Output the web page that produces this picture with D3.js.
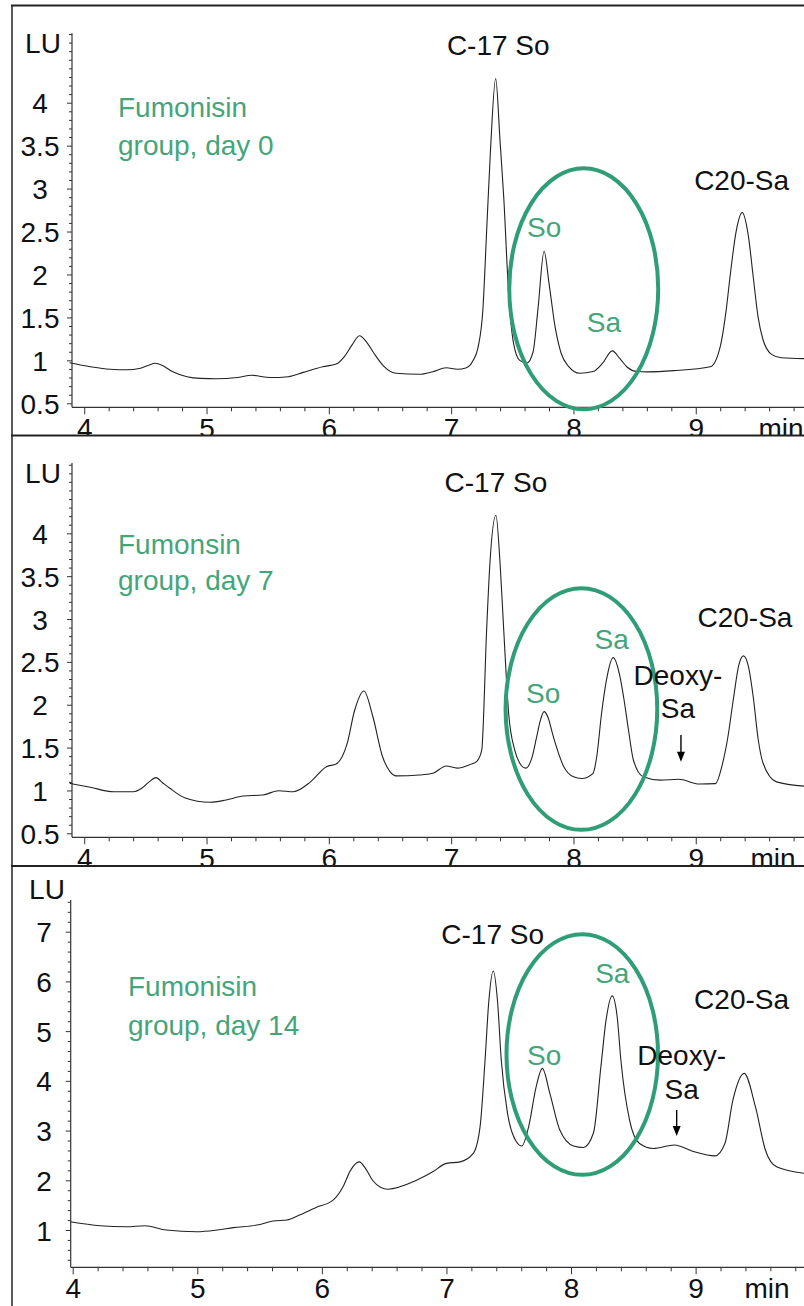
<!DOCTYPE html>
<html><head><meta charset="utf-8">
<script src="https://cdn.jsdelivr.net/npm/d3@7"></script>
<style>
html,body{margin:0;padding:0;background:#fff;}
svg text{font-family:"Liberation Sans",Arial,sans-serif;}
</style></head>
<body>
<svg id="chart" width="804" height="1306"></svg>
<script>
// ---------- data (retention time in min, signal in LU) ----------
const day0Time = [3.88,4.05,4.21,4.35,4.45,4.52,4.58,4.64,4.72,4.84,4.95,5.08,5.25,5.37,5.52,5.67,5.79,5.95,6.06,6.13,6.19,6.25,6.31,6.37,6.45,6.55,6.74,6.85,6.96,7.05,7.12,7.18,7.22,7.26,7.29,7.32,7.364,7.40,7.43,7.47,7.51,7.56,7.62,7.67,7.71,7.76,7.80,7.85,7.90,7.96,8.05,8.16,8.24,8.317,8.38,8.44,8.52,8.60,8.82,9.12,9.20,9.25,9.28,9.33,9.38,9.43,9.47,9.51,9.55,9.62,9.70,9.885];
const day0LU   = [0.973,0.926,0.896,0.89,0.905,0.94,0.966,0.94,0.87,0.81,0.79,0.786,0.80,0.826,0.80,0.81,0.86,0.926,0.957,1.05,1.18,1.287,1.21,1.08,0.93,0.849,0.838,0.868,0.914,0.896,0.91,1.0,1.15,1.6,2.5,3.4,4.28,3.55,2.9,1.78,1.2,1.0,0.97,1.1,1.6,2.27,1.9,1.39,1.08,0.93,0.85,0.87,0.97,1.11,1.02,0.92,0.87,0.866,0.88,0.926,1.16,1.6,1.97,2.5,2.72,2.45,1.97,1.5,1.24,1.07,1.03,1.02];

const day7Time = [3.88,4.05,4.24,4.40,4.47,4.53,4.587,4.64,4.70,4.82,5.03,5.16,5.30,5.46,5.59,5.71,5.85,5.98,6.06,6.15,6.21,6.287,6.36,6.44,6.50,6.55,6.74,6.85,6.96,7.05,7.15,7.21,7.25,7.29,7.317,7.366,7.40,7.43,7.47,7.52,7.56,7.61,7.66,7.70,7.73,7.76,7.79,7.835,7.92,8.0,8.07,8.16,8.19,8.23,8.27,8.325,8.38,8.41,8.45,8.49,8.57,8.71,8.86,9.03,9.16,9.22,9.26,9.31,9.35,9.39,9.43,9.47,9.51,9.55,9.66,9.885];
const day7LU   = [1.083,1.037,0.985,0.985,1.025,1.10,1.149,1.09,1.025,0.916,0.862,0.889,0.935,0.947,0.997,0.985,1.10,1.277,1.309,1.55,1.93,2.16,1.86,1.39,1.22,1.17,1.18,1.20,1.285,1.26,1.30,1.34,1.47,2.87,3.65,4.21,3.65,2.87,1.90,1.47,1.32,1.26,1.38,1.63,1.82,1.92,1.86,1.63,1.28,1.16,1.14,1.20,1.39,1.90,2.29,2.55,2.33,2.09,1.705,1.355,1.16,1.12,1.13,1.075,1.08,1.32,1.6,2.09,2.45,2.57,2.45,2.09,1.6,1.32,1.10,1.05];

const day14Time = [3.98,4.22,4.43,4.58,4.75,4.995,5.16,5.29,5.48,5.61,5.72,5.82,5.95,6.09,6.17,6.23,6.30,6.35,6.41,6.47,6.53,6.76,6.89,7.00,7.11,7.215,7.27,7.31,7.34,7.376,7.41,7.44,7.49,7.56,7.605,7.66,7.72,7.77,7.83,7.91,8.02,8.10,8.18,8.24,8.28,8.33,8.37,8.40,8.47,8.55,8.66,8.83,8.98,9.155,9.235,9.30,9.39,9.48,9.56,9.65,9.87];
const day14LU   = [1.167,1.087,1.066,1.087,1.0,0.966,1.0,1.047,1.1,1.18,1.2,1.30,1.45,1.60,1.87,2.2,2.37,2.24,1.99,1.86,1.82,2.0,2.17,2.34,2.37,2.54,3.08,4.42,5.6,6.21,5.6,4.42,3.35,2.78,2.69,3.08,3.88,4.25,3.75,3.01,2.69,2.66,2.95,4.29,5.2,5.71,5.3,4.42,3.21,2.74,2.64,2.71,2.58,2.49,2.74,3.62,4.15,3.48,2.61,2.27,2.14];

const xTickValues = [4,5,6,7,8,9];
const yTicksA = [0.5,1,1.5,2,2.5,3,3.5,4];
const yTicksB = [1,2,3,4,5,6,7];

const titles = [["Fumonisin","group, day 0"],["Fumonsin","group, day 7"],["Fumonisin","group, day 14"]];

// annotations in data coordinates [time, LU] (label centres)
const ann0 = [{t:"C-17 So",x:7.385,y:4.671,c:"k"},{t:"C20-Sa",x:9.375,y:3.10,c:"k"},{t:"So",x:7.761,y:2.556,c:"g"},{t:"Sa",x:8.249,y:1.45,c:"g"}];
const ann7 = [{t:"C-17 So",x:7.366,y:4.603,c:"k"},{t:"C20-Sa",x:9.402,y:3.027,c:"k"},{t:"So",x:7.753,y:2.134,c:"g"},{t:"Sa",x:8.312,y:2.764,c:"g"},{t:"Deoxy-",x:8.854,y:2.347,c:"k"},{t:"Sa",x:8.854,y:1.959,c:"k"}];
const ann14 = [{t:"C-17 So",x:7.371,y:6.956,c:"k"},{t:"C20-Sa",x:9.369,y:5.642,c:"k"},{t:"So",x:7.785,y:4.521,c:"g"},{t:"Sa",x:8.331,y:6.177,c:"g"},{t:"Deoxy-",x:8.888,y:4.521,c:"k"},{t:"Sa",x:8.888,y:3.831,c:"k"}];
const arrow7 = [8.879, 1.647, 1.335];
const arrow14 = [8.848, 3.414, 2.891];
const ellipse0 = [8.084, 1.833, 0.609, 1.403];
const ellipse7 = [8.065, 1.95, 0.62, 1.41];
const ellipse14 = [8.09, 4.53, 0.608, 2.42];

// ---------- drawing ----------
const GREEN_TEXT = "#45a57a", GREEN_LINE = "#2f9e76";
const FS = 28;
const svg = d3.select("#chart");

const panels = [
  {time:day0Time, lu:day0LU, yTicks:yTicksA, yMinor:0.1, yDom:[0.5,4], yRange:[403.3,102.7], yTop:4.81, yBot:0.453,
   xDom:[3.9,9.885], xRange:[72,804], axisY:407.3, top:6, bottom:435, ann:ann0, ell:ellipse0, arrow:null,
   title:titles[0], titleX:118, titleY:[117,155], luY:52.7, labX:40, minX:781},
  {time:day7Time, lu:day7LU, yTicks:yTicksA, yMinor:0.1, yDom:[0.5,4], yRange:[833.3,533.3], yTop:4.82, yBot:0.453,
   xDom:[3.9,9.885], xRange:[72,804], axisY:837.3, top:435, bottom:866, ann:ann7, ell:ellipse7, arrow:arrow7,
   title:titles[1], titleX:118, titleY:[554,590], luY:483.3, labX:40, minX:773},
  {time:day14Time, lu:day14LU, yTicks:yTicksB, yMinor:0.2, yDom:[1,7], yRange:[1230,931.7], yTop:7.64, yBot:0.25,
   xDom:[3.984,9.87], xRange:[70.7,804], axisY:1267.3, top:866, bottom:1306, ann:ann14, ell:ellipse14, arrow:arrow14,
   title:titles[2], titleX:128, titleY:[996,1035], luY:899.3, labX:44, minX:767}
];

panels.forEach((p,i)=>{
  const x = d3.scaleLinear().domain(p.xDom).range(p.xRange);
  const y = d3.scaleLinear().domain(p.yDom).range(p.yRange);
  const clipId = "clip"+i;
  svg.append("clipPath").attr("id",clipId).append("rect")
    .attr("x",12).attr("y",p.top).attr("width",792).attr("height",p.bottom-p.top);
  const g = svg.append("g").attr("clip-path",`url(#${clipId})`);
  const x0 = p.xRange[0];

  // y axis line + ticks
  const minorVals = d3.range(Math.ceil(p.yBot/p.yMinor)*p.yMinor, p.yTop+1e-9, p.yMinor)
    .map(v=>+v.toFixed(2)).filter(v=>!p.yTicks.some(t=>Math.abs(t-v)<1e-6));
  g.append("g").attr("transform",`translate(${x0},0)`)
    .call(d3.axisLeft(y).tickValues(minorVals).tickSize(3).tickSizeOuter(0).tickFormat(""))
    .call(s=>s.select(".domain").remove())
    .call(s=>s.selectAll("line").attr("stroke","#333"));
  const ya = g.append("g").attr("transform",`translate(${x0},0)`)
    .call(d3.axisLeft(y).tickValues(p.yTicks).tickSize(5).tickSizeOuter(0).tickFormat(d3.format("")));
  ya.select(".domain").remove();
  ya.selectAll("line").attr("stroke","#333");
  ya.selectAll("text").attr("x",p.labX-x0).attr("text-anchor","middle").attr("dy","0.36em")
    .attr("font-size",FS).attr("fill","#111").attr("font-family","Liberation Sans, Arial, sans-serif");
  g.append("line").attr("x1",x0).attr("x2",x0).attr("y1",y(p.yTop)).attr("y2",p.axisY)
    .attr("stroke","#333").attr("stroke-width",1.2);

  // x axis
  const xMinor = d3.range(Math.ceil(p.xDom[0]*5)/5, p.xDom[1], 0.2).map(v=>+v.toFixed(1))
    .filter(v=>!xTickValues.includes(v));
  g.append("g").attr("transform",`translate(0,${p.axisY})`)
    .call(d3.axisBottom(x).tickValues(xMinor).tickSize(4).tickSizeOuter(0).tickFormat(""))
    .call(s=>s.select(".domain").remove())
    .call(s=>s.selectAll("line").attr("stroke","#333"));
  const xa = g.append("g").attr("transform",`translate(0,${p.axisY})`)
    .call(d3.axisBottom(x).tickValues(xTickValues).tickSize(7).tickPadding(4).tickSizeOuter(0).tickFormat(d3.format("d")));
  xa.select(".domain").remove();
  xa.selectAll("line").attr("stroke","#333");
  xa.selectAll("text").attr("font-size",FS).attr("fill","#111").attr("font-family","Liberation Sans, Arial, sans-serif");
  g.append("line").attr("x1",x0).attr("x2",804).attr("y1",p.axisY).attr("y2",p.axisY)
    .attr("stroke","#333").attr("stroke-width",1.2);
  g.append("text").attr("x",p.minX).attr("y",p.axisY+11).attr("dy","0.71em").attr("text-anchor","middle")
    .attr("font-size",FS).attr("fill","#111").text("min");
  g.append("text").attr("x",p.labX+3).attr("y",p.luY).attr("text-anchor","middle")
    .attr("font-size",FS).attr("fill","#111").text("LU");

  // trace
  const pts = p.time.map((t,k)=>[t,p.lu[k]]);
  g.append("path").datum(pts)
    .attr("d",d3.line().x(d=>x(d[0])).y(d=>y(d[1])).curve(d3.curveMonotoneX))
    .attr("fill","none").attr("stroke","#222").attr("stroke-width",1.1);

  // ellipse
  const [ct,cl,rt,rl] = p.ell;
  g.append("ellipse").attr("cx",x(ct)).attr("cy",y(cl))
    .attr("rx",Math.abs(x(ct+rt)-x(ct))).attr("ry",Math.abs(y(cl+rl)-y(cl)))
    .attr("fill","none").attr("stroke",GREEN_LINE).attr("stroke-width",4);

  // title
  const tt = g.append("text").attr("fill",GREEN_TEXT).attr("font-size",FS);
  p.title.forEach((s,k)=>tt.append("tspan").attr("x",p.titleX).attr("y",p.titleY[k]).text(s));

  // annotations
  p.ann.forEach(a=>{
    g.append("text").attr("x",x(a.x)).attr("y",y(a.y)).attr("dy","0.36em").attr("text-anchor","middle")
      .attr("font-size",FS).attr("fill",a.c==="g"?GREEN_TEXT:"#111").text(a.t);
  });
  if(p.arrow){
    const ax = x(p.arrow[0]), ay1 = y(p.arrow[1]), ay2 = y(p.arrow[2]);
    g.append("line").attr("x1",ax).attr("x2",ax).attr("y1",ay1).attr("y2",ay2-8)
      .attr("stroke","#000").attr("stroke-width",1.4);
    g.append("path").attr("d",`M${ax-4},${ay2-10} L${ax+4},${ay2-10} L${ax},${ay2} Z`).attr("fill","#000");
  }
});

// frame lines
svg.append("line").attr("x1",12).attr("x2",12).attr("y1",5).attr("y2",1306).attr("stroke","#222").attr("stroke-width",1.5);
svg.append("line").attr("x1",11).attr("x2",804).attr("y1",5.5).attr("y2",5.5).attr("stroke","#222").attr("stroke-width",2);
[435.5,866].forEach(yy=>svg.append("line").attr("x1",11).attr("x2",804).attr("y1",yy).attr("y2",yy).attr("stroke","#222").attr("stroke-width",2));
</script>
</body></html>
